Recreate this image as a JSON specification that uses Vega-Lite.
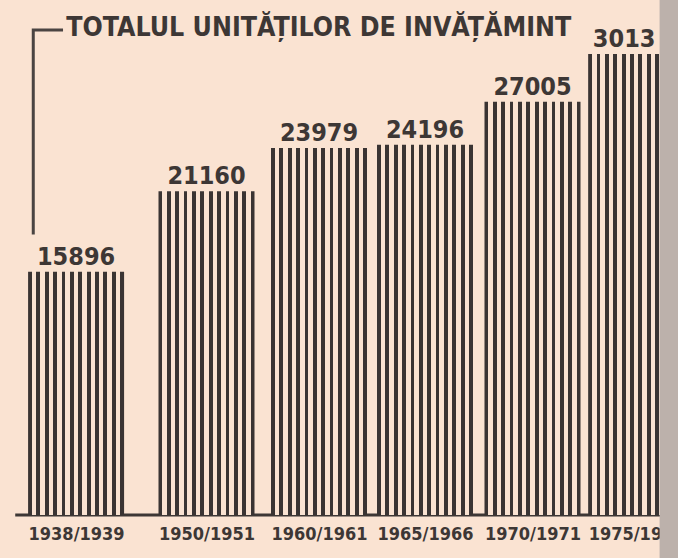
{
  "$schema": "https://vega.github.io/schema/vega-lite/v6.json",
  "width": 678,
  "height": 558,
  "autosize": {"type": "none"},
  "padding": 0,
  "background": "#fae3d2",
  "config": {"view": {"stroke": null}},
  "datasets": {
    "bars": [
      {"start": 1938, "value": 15896, "label": "15896"},
      {"start": 1950, "value": 21160, "label": "21160"},
      {"start": 1960, "value": 23979, "label": "23979"},
      {"start": 1965, "value": 24196, "label": "24196"},
      {"start": 1970, "value": 27005, "label": "27005"},
      {"start": 1975, "value": 30130, "label": "3013"}
    ],
    "bracket": [
      {"x": 1934.06, "y": 18431, "o": 0},
      {"x": 1934.06, "y": 31699, "o": 1},
      {"x": 1936.66, "y": 31699, "o": 2}
    ],
    "title": [
      {"x": 1937.1, "y": 31830, "text": "TOTALUL UNITĂȚILOR DE INVĂȚĂMINT"}
    ],
    "baseline": [
      {"x": 1932.4, "x2": 1977, "y": 0}
    ],
    "edge": [
      {"x": 1976.13, "x2": 1980, "y": -2810, "y2": 33660}
    ]
  },
  "layer": [
    {
      "data": {"name": "baseline"},
      "mark": {"type": "rule", "strokeWidth": 3, "color": "#3d3735"},
      "encoding": {
        "x": {
          "field": "x", "type": "quantitative",
          "scale": {"domain": [1938, 1950, 1960, 1965, 1970, 1975], "range": [72.5, 206.5, 319, 425, 532.5, 643], "nice": false, "zero": false},
          "axis": {
            "values": [1938, 1950, 1960, 1965, 1970, 1975],
            "labelExpr": "datum.value + '/' + (datum.value + 1)",
            "offset": -43,
            "domain": false, "ticks": false, "grid": false, "title": null,
            "labelFont": "DejaVu Sans Condensed", "labelFontSize": 18, "labelFontWeight": "bold",
            "labelColor": "#3d3735", "labelPadding": 10, "labelFlush": false, "labelOverlap": false
          }
        },
        "x2": {"field": "x2"},
        "y": {"field": "y", "type": "quantitative", "scale": {"domain": [-2810, 33660], "nice": false, "zero": false}, "axis": null}
      }
    },
    {
      "data": {"name": "bars"},
      "mark": {
        "type": "bar",
        "orient": "vertical",
        "width": 96,
        "stroke": null,
        "fill": {
          "gradient": "linear", "x1": 0, "x2": 1, "y1": 0, "y2": 0,
          "stops": [
            {"offset": 0, "color": "#3a3433"}, {"offset": 0.04, "color": "#3a3433"},
            {"offset": 0.04, "color": "#fae3d2"}, {"offset": 0.0873, "color": "#fae3d2"},
            {"offset": 0.0873, "color": "#3a3433"}, {"offset": 0.1273, "color": "#3a3433"},
            {"offset": 0.1273, "color": "#fae3d2"}, {"offset": 0.1745, "color": "#fae3d2"},
            {"offset": 0.1745, "color": "#3a3433"}, {"offset": 0.2145, "color": "#3a3433"},
            {"offset": 0.2145, "color": "#fae3d2"}, {"offset": 0.2618, "color": "#fae3d2"},
            {"offset": 0.2618, "color": "#3a3433"}, {"offset": 0.3018, "color": "#3a3433"},
            {"offset": 0.3018, "color": "#fae3d2"}, {"offset": 0.3491, "color": "#fae3d2"},
            {"offset": 0.3491, "color": "#3a3433"}, {"offset": 0.3891, "color": "#3a3433"},
            {"offset": 0.3891, "color": "#fae3d2"}, {"offset": 0.4364, "color": "#fae3d2"},
            {"offset": 0.4364, "color": "#3a3433"}, {"offset": 0.4764, "color": "#3a3433"},
            {"offset": 0.4764, "color": "#fae3d2"}, {"offset": 0.5236, "color": "#fae3d2"},
            {"offset": 0.5236, "color": "#3a3433"}, {"offset": 0.5636, "color": "#3a3433"},
            {"offset": 0.5636, "color": "#fae3d2"}, {"offset": 0.6109, "color": "#fae3d2"},
            {"offset": 0.6109, "color": "#3a3433"}, {"offset": 0.6509, "color": "#3a3433"},
            {"offset": 0.6509, "color": "#fae3d2"}, {"offset": 0.6982, "color": "#fae3d2"},
            {"offset": 0.6982, "color": "#3a3433"}, {"offset": 0.7382, "color": "#3a3433"},
            {"offset": 0.7382, "color": "#fae3d2"}, {"offset": 0.7855, "color": "#fae3d2"},
            {"offset": 0.7855, "color": "#3a3433"}, {"offset": 0.8255, "color": "#3a3433"},
            {"offset": 0.8255, "color": "#fae3d2"}, {"offset": 0.8727, "color": "#fae3d2"},
            {"offset": 0.8727, "color": "#3a3433"}, {"offset": 0.9127, "color": "#3a3433"},
            {"offset": 0.9127, "color": "#fae3d2"}, {"offset": 0.96, "color": "#fae3d2"},
            {"offset": 0.96, "color": "#3a3433"}, {"offset": 1, "color": "#3a3433"}
          ]
        }
      },
      "encoding": {
        "x": {"field": "start", "type": "quantitative", "scale": {"domain": [1938, 1950, 1960, 1965, 1970, 1975], "range": [72.5, 206.5, 319, 425, 532.5, 643], "nice": false, "zero": false}},
        "y": {"field": "value", "type": "quantitative", "scale": {"domain": [-2810, 33660], "nice": false, "zero": false}}
      }
    },
    {
      "data": {"name": "bars"},
      "transform": [{"filter": "datum.start < 1975"}],
      "mark": {"type": "text", "font": "DejaVu Sans Condensed", "fontWeight": "bold", "fontSize": 25, "baseline": "alphabetic", "dy": -7, "color": "#3d3735"},
      "encoding": {
        "x": {"field": "start", "type": "quantitative", "scale": {"domain": [1938, 1950, 1960, 1965, 1970, 1975], "range": [72.5, 206.5, 319, 425, 532.5, 643], "nice": false, "zero": false}},
        "y": {"field": "value", "type": "quantitative", "scale": {"domain": [-2810, 33660], "nice": false, "zero": false}},
        "text": {"field": "label"}
      }
    },
    {
      "data": {"name": "bars"},
      "transform": [{"filter": "datum.start == 1975"}],
      "mark": {"type": "text", "font": "DejaVu Sans Condensed", "fontWeight": "bold", "fontSize": 25, "baseline": "alphabetic", "dy": -7, "dx": -12, "color": "#3d3735"},
      "encoding": {
        "x": {"field": "start", "type": "quantitative", "scale": {"domain": [1938, 1950, 1960, 1965, 1970, 1975], "range": [72.5, 206.5, 319, 425, 532.5, 643], "nice": false, "zero": false}},
        "y": {"field": "value", "type": "quantitative", "scale": {"domain": [-2810, 33660], "nice": false, "zero": false}},
        "text": {"field": "label"}
      }
    },
    {
      "data": {"name": "bracket"},
      "mark": {"type": "line", "strokeWidth": 3, "color": "#4a4442", "strokeCap": "square"},
      "encoding": {
        "x": {"field": "x", "type": "quantitative", "scale": {"domain": [1938, 1950, 1960, 1965, 1970, 1975], "range": [72.5, 206.5, 319, 425, 532.5, 643], "nice": false, "zero": false}},
        "y": {"field": "y", "type": "quantitative", "scale": {"domain": [-2810, 33660], "nice": false, "zero": false}},
        "order": {"field": "o"}
      }
    },
    {
      "data": {"name": "title"},
      "mark": {"type": "text", "align": "left", "baseline": "middle", "font": "DejaVu Sans Condensed", "fontWeight": "bold", "fontSize": 26.5, "color": "#3d3735"},
      "encoding": {
        "x": {"field": "x", "type": "quantitative", "scale": {"domain": [1938, 1950, 1960, 1965, 1970, 1975], "range": [72.5, 206.5, 319, 425, 532.5, 643], "nice": false, "zero": false}},
        "y": {"field": "y", "type": "quantitative", "scale": {"domain": [-2810, 33660], "nice": false, "zero": false}},
        "text": {"field": "text"}
      }
    },
    {
      "data": {"name": "edge"},
      "mark": {"type": "rect", "color": "#bcb1ab"},
      "encoding": {
        "x": {"field": "x", "type": "quantitative", "scale": {"domain": [1938, 1950, 1960, 1965, 1970, 1975], "range": [72.5, 206.5, 319, 425, 532.5, 643], "nice": false, "zero": false}},
        "x2": {"field": "x2"},
        "y": {"field": "y", "type": "quantitative", "scale": {"domain": [-2810, 33660], "nice": false, "zero": false}},
        "y2": {"field": "y2"}
      }
    }
  ]
}
